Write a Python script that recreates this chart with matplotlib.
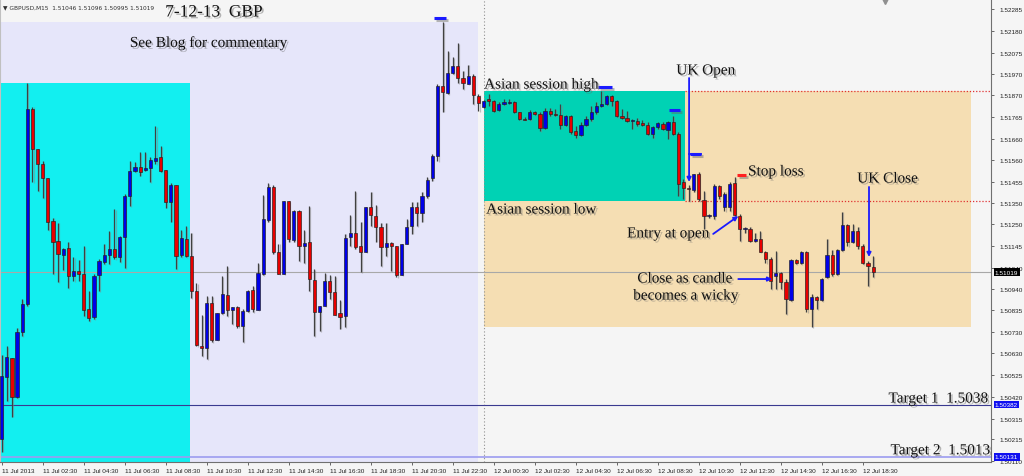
import matplotlib
matplotlib.use('Agg')
import matplotlib.pyplot as plt
import matplotlib.patheffects as pe
from matplotlib.patches import Rectangle
import numpy as np

# GBPUSD M15, 11 Jul 2013 00:30 -> 12 Jul 2013 19:00 (one value per bar)
opens = [1.50217, 1.50515, 1.50607, 1.50419, 1.50732, 1.50866, 1.51804, 1.51612, 1.51539, 1.51472,
         1.51265, 1.51169, 1.51102, 1.51136, 1.51000, 1.51024, 1.51010, 1.50842, 1.50804, 1.51005,
         1.51068, 1.51102, 1.51131, 1.51092, 1.51189, 1.51386, 1.51506, 1.51525, 1.51510, 1.51520,
         1.51553, 1.51573, 1.51510, 1.51357, 1.51438, 1.51102, 1.51179, 1.51097, 1.50928, 1.50664,
         1.50655, 1.50871, 1.50693, 1.50823, 1.50909, 1.50837, 1.50851, 1.50760, 1.50832, 1.50933,
         1.50837, 1.51010, 1.51270, 1.51429, 1.51116, 1.51010, 1.51361, 1.51174, 1.51313, 1.51145,
         1.51165, 1.50981, 1.50827, 1.50856, 1.50976, 1.50923, 1.50823, 1.50808, 1.51189, 1.51208,
         1.51145, 1.51116, 1.51333, 1.51289, 1.51237, 1.51140, 1.51160, 1.51145, 1.51005, 1.51155,
         1.51241, 1.51333, 1.51304, 1.51386, 1.51472, 1.51578, 1.51915, 1.51881, 1.51977, 1.52011,
         1.51953, 1.51924, 1.51963, 1.51866, 1.51814, 1.51852, 1.51842, 1.51799, 1.51828, 1.51833,
         1.51838, 1.51790, 1.51756, 1.51756, 1.51790, 1.51780, 1.51712, 1.51794, 1.51780, 1.51775,
         1.51727, 1.51770, 1.51698, 1.51679, 1.51727, 1.51756, 1.51790, 1.51818, 1.51828, 1.51866,
         1.51842, 1.51770, 1.51761, 1.51746, 1.51746, 1.51737, 1.51727, 1.51684, 1.51717, 1.51732,
         1.51703, 1.51741, 1.51684, 1.51453, 1.51424, 1.51414, 1.51491, 1.51366, 1.51289, 1.51289,
         1.51434, 1.51333, 1.51333, 1.51448, 1.51289, 1.51227, 1.51227, 1.51169, 1.51179, 1.51116,
         1.51082, 1.51000, 1.51015, 1.50971, 1.50885, 1.51078, 1.51063, 1.51116, 1.50842, 1.50900,
         1.50885, 1.50996, 1.51102, 1.51010, 1.51126, 1.51246, 1.51165, 1.51217, 1.51145, 1.51063,
         1.51046]
highs = [1.50621, 1.50664, 1.50607, 1.50751, 1.50890, 1.51929, 1.51814, 1.51612, 1.51553, 1.51472,
         1.51280, 1.51256, 1.51136, 1.51165, 1.51092, 1.51078, 1.51145, 1.50928, 1.51010, 1.51082,
         1.51155, 1.51217, 1.51323, 1.51193, 1.51395, 1.51553, 1.51549, 1.51597, 1.51597, 1.51573,
         1.51722, 1.51626, 1.51510, 1.51448, 1.51438, 1.51222, 1.51241, 1.51208, 1.50967, 1.50813,
         1.50904, 1.50904, 1.50823, 1.51000, 1.51049, 1.50851, 1.50856, 1.50842, 1.50933, 1.50952,
         1.51063, 1.51390, 1.51448, 1.51438, 1.51155, 1.51361, 1.51361, 1.51318, 1.51318, 1.51222,
         1.51337, 1.51034, 1.50856, 1.51015, 1.51005, 1.51000, 1.50885, 1.51203, 1.51294, 1.51409,
         1.51261, 1.51333, 1.51405, 1.51342, 1.51256, 1.51256, 1.51165, 1.51145, 1.51155, 1.51275,
         1.51357, 1.51357, 1.51405, 1.51477, 1.51587, 1.51924, 1.52222, 1.52083, 1.52054, 1.52121,
         1.51987, 1.52016, 1.51972, 1.51876, 1.51847, 1.51876, 1.51847, 1.51838, 1.51852, 1.51852,
         1.51842, 1.51790, 1.51765, 1.51799, 1.51794, 1.51790, 1.51809, 1.51809, 1.51804, 1.51828,
         1.51775, 1.51775, 1.51722, 1.51741, 1.51770, 1.51818, 1.51838, 1.51891, 1.51871, 1.51871,
         1.51847, 1.51804, 1.51794, 1.51756, 1.51761, 1.51751, 1.51741, 1.51722, 1.51741, 1.51741,
         1.51746, 1.51770, 1.51693, 1.51467, 1.51438, 1.51491, 1.51501, 1.51409, 1.51299, 1.51443,
         1.51438, 1.51405, 1.51453, 1.51477, 1.51299, 1.51237, 1.51237, 1.51208, 1.51217, 1.51121,
         1.51092, 1.51121, 1.51020, 1.50986, 1.51082, 1.51082, 1.51121, 1.51121, 1.50914, 1.50904,
         1.50991, 1.51179, 1.51126, 1.51131, 1.51309, 1.51251, 1.51251, 1.51237, 1.51155, 1.51073,
         1.51096]
lows = [1.50155, 1.50399, 1.50323, 1.50414, 1.50712, 1.50856, 1.51453, 1.51409, 1.51376, 1.51222,
        1.51010, 1.50972, 1.51029, 1.50943, 1.50976, 1.50976, 1.50808, 1.50784, 1.50794, 1.50928,
        1.51058, 1.51058, 1.51082, 1.51068, 1.51039, 1.51337, 1.51501, 1.51482, 1.51506, 1.51453,
        1.51539, 1.51501, 1.51328, 1.51261, 1.51034, 1.51092, 1.51092, 1.50895, 1.50664, 1.50616,
        1.50601, 1.50683, 1.50693, 1.50818, 1.50808, 1.50770, 1.50751, 1.50683, 1.50827, 1.50827,
        1.50837, 1.51005, 1.51261, 1.51107, 1.51010, 1.51010, 1.51165, 1.51165, 1.51073, 1.51063,
        1.50928, 1.50712, 1.50736, 1.50856, 1.50890, 1.50813, 1.50746, 1.50755, 1.51145, 1.51131,
        1.51020, 1.51116, 1.51241, 1.51165, 1.51049, 1.51097, 1.51024, 1.50995, 1.51005, 1.51155,
        1.51203, 1.51241, 1.51261, 1.51376, 1.51458, 1.51553, 1.51790, 1.51876, 1.51972, 1.51929,
        1.51900, 1.51924, 1.51828, 1.51794, 1.51809, 1.51818, 1.51790, 1.51794, 1.51823, 1.51828,
        1.51785, 1.51751, 1.51751, 1.51751, 1.51775, 1.51698, 1.51708, 1.51770, 1.51770, 1.51708,
        1.51722, 1.51684, 1.51664, 1.51674, 1.51722, 1.51746, 1.51780, 1.51814, 1.51823, 1.51818,
        1.51765, 1.51756, 1.51741, 1.51708, 1.51722, 1.51722, 1.51679, 1.51664, 1.51708, 1.51703,
        1.51660, 1.51679, 1.51386, 1.51371, 1.51361, 1.51405, 1.51361, 1.51227, 1.51280, 1.51275,
        1.51371, 1.51313, 1.51313, 1.51289, 1.51169, 1.51208, 1.51165, 1.51165, 1.51116, 1.51063,
        1.50938, 1.50938, 1.50938, 1.50818, 1.50880, 1.51058, 1.51058, 1.50827, 1.50755, 1.50842,
        1.50880, 1.50991, 1.51000, 1.51005, 1.51121, 1.51145, 1.51160, 1.51131, 1.51058, 1.50952,
        1.50995]
closes = [1.50519, 1.50612, 1.50419, 1.50732, 1.50866, 1.51804, 1.51612, 1.51539, 1.51472, 1.51261,
          1.51165, 1.51107, 1.51131, 1.51000, 1.51024, 1.51010, 1.50837, 1.50799, 1.51000, 1.51073,
          1.51102, 1.51131, 1.51092, 1.51189, 1.51386, 1.51506, 1.51525, 1.51501, 1.51520, 1.51558,
          1.51568, 1.51506, 1.51357, 1.51438, 1.51097, 1.51184, 1.51097, 1.50928, 1.50669, 1.50655,
          1.50871, 1.50693, 1.50823, 1.50914, 1.50837, 1.50851, 1.50760, 1.50832, 1.50928, 1.50842,
          1.51015, 1.51275, 1.51429, 1.51116, 1.51010, 1.51361, 1.51179, 1.51313, 1.51145, 1.51160,
          1.50986, 1.50827, 1.50856, 1.50976, 1.50923, 1.50813, 1.50804, 1.51184, 1.51208, 1.51140,
          1.51116, 1.51333, 1.51294, 1.51237, 1.51140, 1.51160, 1.51145, 1.51005, 1.51155, 1.51237,
          1.51333, 1.51304, 1.51386, 1.51462, 1.51578, 1.51915, 1.51886, 1.51977, 1.52011, 1.51953,
          1.51929, 1.51963, 1.51871, 1.51833, 1.51842, 1.51842, 1.51794, 1.51828, 1.51838, 1.51838,
          1.51790, 1.51756, 1.51751, 1.51790, 1.51780, 1.51712, 1.51794, 1.51780, 1.51775, 1.51727,
          1.51770, 1.51693, 1.51679, 1.51727, 1.51756, 1.51790, 1.51818, 1.51828, 1.51866, 1.51842,
          1.51770, 1.51761, 1.51746, 1.51749, 1.51732, 1.51727, 1.51684, 1.51717, 1.51737, 1.51708,
          1.51741, 1.51684, 1.51443, 1.51424, 1.51419, 1.51491, 1.51371, 1.51289, 1.51294, 1.51434,
          1.51386, 1.51395, 1.51443, 1.51294, 1.51227, 1.51232, 1.51169, 1.51179, 1.51116, 1.51082,
          1.50976, 1.51015, 1.50971, 1.50890, 1.51078, 1.51063, 1.51116, 1.50842, 1.50900, 1.50885,
          1.50986, 1.51102, 1.51010, 1.51126, 1.51246, 1.51165, 1.51217, 1.51145, 1.51063, 1.51049,
          1.51019]

time_ticks = list(range(0, 169, 8))
time_labels = ['11 Jul 2013', '11 Jul 02:30', '11 Jul 04:30', '11 Jul 06:30', '11 Jul 08:30',
               '11 Jul 10:30', '11 Jul 12:30', '11 Jul 14:30', '11 Jul 16:30', '11 Jul 18:30',
               '11 Jul 20:30', '11 Jul 22:30', '12 Jul 00:30', '12 Jul 02:30', '12 Jul 04:30',
               '12 Jul 06:30', '12 Jul 08:30', '12 Jul 10:30', '12 Jul 12:30', '12 Jul 14:30',
               '12 Jul 16:30', '12 Jul 18:30']
price_ticks = [1.52285, 1.52180, 1.52075, 1.51970, 1.51870, 1.51765, 1.51660, 1.51560, 1.51455,
               1.51350, 1.51250, 1.51145, 1.51040, 1.50940, 1.50835, 1.50730, 1.50630, 1.50525,
               1.50420, 1.50315, 1.50215, 1.50110]
target1 = 1.50382
target2 = 1.50131
stop_loss = 1.51486

# bar ranges of the drawn boxes
day1_end = 93.0        # lavender: 11 Jul
morning_end = 36.7     # cyan: early 11 Jul
asia_start, asia_end = 94, 133.3
box_end = 189.1

o = np.array(opens); h = np.array(highs); l = np.array(lows); c = np.array(closes)
x = np.arange(len(o))

fig = plt.figure(figsize=(10.24, 4.77), dpi=100, facecolor='#f5f5f5')
ax = fig.add_axes([0.0, 14 / 477, 991 / 1024, 463 / 477])
ax.set_facecolor('#f5f5f5')
ymin, ymax = 1.50106, 1.52333
ax.set_xlim(-0.33, 193.0)
ax.set_ylim(ymin, ymax)

# shaded areas
ax.add_patch(Rectangle((-1, ymin), day1_end + 1, h[:94].max() - ymin, fc='#e6e6fa', ec='none', zorder=0))
ax.add_patch(Rectangle((-1, ymin), morning_end + 1, h[:37].max() - ymin, fc='#12eff0', ec='none', zorder=0.5))
asia_hi = h[asia_start:135].max()
asia_lo = l[asia_start:135].min()
ax.add_patch(Rectangle((asia_start, l[asia_start:].min()), box_end - asia_start,
                       asia_hi - l[asia_start:].min(), fc='#f5deb3', ec='none', zorder=0.6))
ax.add_patch(Rectangle((asia_start, asia_lo), asia_end - asia_start, asia_hi - asia_lo,
                       fc='#00d2b4', ec='none', zorder=0.7))
ax.hlines([asia_hi, asia_lo], asia_end, 193.0, colors='#e03030', linestyles=(0, (1, 1.5)), lw=0.9, zorder=1)

ax.axvline(asia_start, color='#909090', ls=(0, (1, 2)), lw=0.8, zorder=1)
ax.axhline(c[-1], color='#a8a8a8', lw=0.8, zorder=1)
ax.axhline(target1, color='#3a3a90', lw=0.8, zorder=1)
ax.axhline(target2, color='#9c9cf0', lw=1.2, zorder=1)

# candles
up = c >= o
body_lo = np.minimum(o, c)
body_h = np.maximum(np.abs(c - o), 0.00002)
ax.vlines(x, l, h, color='#404040', lw=0.9, zorder=3,
          path_effects=[pe.SimpleLineShadow(offset=(0.8, -0.4), shadow_color='#888888', alpha=0.5), pe.Normal()])
ax.bar(x, body_h, bottom=body_lo, width=0.62, color=np.where(up, '#0000e8', '#e80000'),
       edgecolor='#202020', linewidth=0.45, zorder=4)

shadow = [pe.withSimplePatchShadow(offset=(1.3, -1.3), shadow_rgbFace='#666666', alpha=0.45)]
lshadow = [pe.SimpleLineShadow(offset=(1.3, -1.3), shadow_color='#666666', alpha=0.45), pe.Normal()]

# marker dashes
for x0, x1, y, col in [(84.4, 86.7, h[86] + 0.00020, '#1a1aff'), (116.4, 119.1, asia_hi + 0.00019, '#1a1aff'),
                       (130.2, 132.4, h[131] + 0.00029, '#1a1aff'), (134.3, 136.5, 1.51588, '#1a1aff'),
                       (143.5, 145.2, stop_loss, '#ff2020')]:
    ax.plot([x0, x1], [y, y], color=col, lw=2.2, solid_capstyle='butt', zorder=6, path_effects=lshadow)

# texts
serif = 'Liberation Serif'
def note(xx, yy, s, size=11):
    ax.text(xx, yy, s, family=serif, fontsize=size, va='center', ha='left', color='#111111',
            zorder=7, path_effects=shadow)

note(31.9, 1.52268, '7-12-13  GBP', 12.5)
note(25.0, 1.52121, 'See Blog for commentary')
note(94.1, 1.51919, 'Asian session high')
note(131.6, 1.51987, 'UK Open')
note(145.6, 1.51501, 'Stop loss')
note(166.9, 1.51467, 'UK Close')
note(94.5, 1.51318, 'Asian session low')
note(122.0, 1.51203, 'Entry at open')
note(124.0, 1.50986, 'Close as candle')
note(123.2, 1.50904, 'becomes a wicky')
note(173.0, 1.50409, 'Target 1  1.5038')
note(173.4, 1.50160, 'Target 2  1.5013')

arrow = dict(arrowstyle='-|>', color='#1a1aff', lw=1.3, mutation_scale=6, shrinkA=0, shrinkB=0)
for (x0, y0), (x1, y1) in [((134.1, 1.51953), (134.1, 1.51453)), ((138.8, 1.51203), (143.7, 1.51289)),
                           ((143.7, 1.50986), (150.3, 1.50986)), ((169.2, 1.51429), (169.2, 1.51092))]:
    ax.annotate('', xy=(x1, y1), xytext=(x0, y0), arrowprops=arrow, zorder=6)
ax.plot([134.1, 136.5], [1.51588, 1.51588], color='#1a1aff', lw=1.3, zorder=6)

ax.text(3 / 991, 1 - 8 / 463, '\u25bc GBPUSD,M15  1.51046 1.51096 1.50995 1.51019', transform=ax.transAxes,
        fontsize=4.2, family='DejaVu Sans', color='#303030', va='center', ha='left')
ax.plot([172.3], [ymax - 0.00008], marker='v', ms=4, color='#909090', clip_on=False, zorder=6)

# axes
ax.spines['top'].set_visible(False)
ax.spines['left'].set_color('#c0c0c0')
ax.spines['right'].set_color('#707070')
ax.spines['bottom'].set_color('#707070')
ax.yaxis.tick_right()
ax.set_yticks(price_ticks)
ax.set_yticklabels([f'{v:.5f}' for v in price_ticks])
ax.set_xticks(time_ticks)
ax.set_xticklabels(time_labels)
ax.tick_params(axis='both', length=2.5, width=0.6, color='#505050', labelsize=4.6, pad=1.5,
               labelcolor='#202020')
ax.tick_params(axis='y', pad=3.5)
for lab in ax.get_xticklabels():
    lab.set_ha('left')
    lab.set_family('Liberation Sans')
for lab in ax.get_yticklabels():
    lab.set_family('Liberation Sans')

for v, fc in [(c[-1], 'black'), (target1, '#1010f0'), (target2, '#1010f0')]:
    ax.text(1.004, v, f'{v:.5f}', transform=ax.get_yaxis_transform(), ha='left', va='center',
            fontsize=4.6, family='Liberation Sans', color='white', clip_on=False, zorder=8,
            bbox=dict(boxstyle='square,pad=0.2', fc=fc, ec='none'))

fig.savefig('out.png', dpi=100, facecolor=fig.get_facecolor())
